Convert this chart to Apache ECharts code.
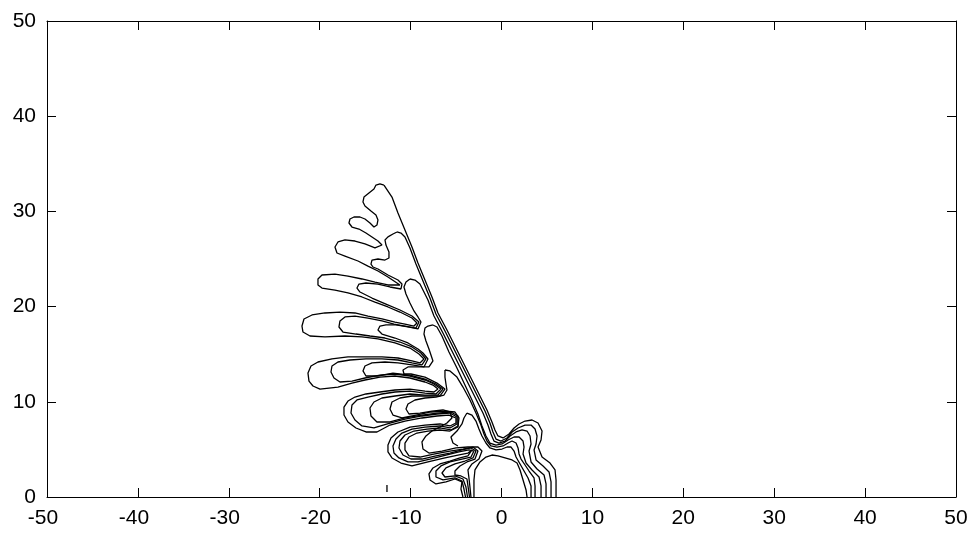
<!DOCTYPE html>
<html>
<head>
<meta charset="utf-8">
<title>contour</title>
<script src="https://cdn.jsdelivr.net/npm/echarts@6/dist/echarts.min.js"></script>
<style>
  html, body { margin: 0; padding: 0; background: #fff; }
  #chart { width: 972px; height: 535px; }
</style>
</head>
<body>
<div id="chart"></div>
<script>
// tick labels
const xTicks = [-50, -40, -30, -20, -10, 0, 10, 20, 30, 40, 50];
const yTicks = [0, 10, 20, 30, 40, 50];

// contour traces, [x, y]
// outermost level, left side (lobes) from the top down
const level1Left = [[-12.93,32.77],[-13.37,32.88],[-13.81,32.77],[-14.03,32.35],[-14.58,31.93],[-15.13,31.51],[-15.24,30.99],[-15.02,30.57],[-14.36,30.04],[-13.81,29.62],[-13.59,29.10],[-13.70,28.57],[-14.03,28.36],
  [-14.47,28.78],[-15.02,29.20],[-15.57,29.41],[-16.23,29.41],[-16.67,29.20],[-16.78,28.78],[-16.45,28.36],[-15.68,28.15],[-14.91,27.73],[-14.25,27.31],[-13.59,26.89],[-13.15,26.47],[-13.26,26.26],
  [-13.92,26.16],[-15.02,26.58],[-16.12,26.89],[-17.22,27.00],[-17.99,26.79],[-18.32,26.26],[-18.10,25.63],[-17.22,25.31],[-15.79,24.79],[-14.69,24.26],[-13.59,23.74],[-12.49,23.11],[-11.17,22.27],[-11.28,22.06],
  [-12.49,22.27],[-13.92,22.58],[-15.35,22.90],[-16.89,23.21],[-18.32,23.42],[-19.75,23.32],[-20.19,22.90],[-20.19,22.27],[-19.75,21.95],[-18.32,21.74],[-16.89,21.43],[-15.35,21.01],[-13.92,20.48],[-12.49,19.96],[-11.17,19.43],[-9.85,18.80],[-9.30,18.28],[-9.63,17.96],
  [-10.62,18.17],[-11.72,18.38],[-13.15,18.70],[-14.69,19.01],[-16.12,19.33],[-17.77,19.43],[-19.42,19.33],[-20.85,19.12],[-21.73,18.70],[-21.95,17.96],[-21.84,17.33],[-21.07,16.91],[-19.42,16.81],[-17.22,16.91],[-15.35,16.81],[-13.59,16.60],[-11.72,16.18],[-10.07,15.65],[-9.08,15.02],[-8.53,14.50],[-8.97,14.08],
  [-9.85,14.29],[-11.39,14.60],[-13.15,14.71],[-15.02,14.71],[-16.89,14.71],[-18.65,14.50],[-20.19,14.18],[-20.96,13.76],[-21.29,13.02],[-21.18,12.18],[-20.74,11.66],[-19.97,11.34],[-17.99,11.55],[-16.45,11.97],[-15.02,12.29],[-13.37,12.60],[-11.72,12.71],[-10.07,12.50],[-8.42,12.08],[-7.54,11.76],[-6.99,11.34],[-7.43,11.03],
  [-8.42,11.13],[-10.07,11.34],[-11.72,11.24],[-13.37,11.03],[-14.91,10.82],[-16.12,10.50],[-16.89,10.08],[-17.33,9.45],[-17.33,8.61],[-16.89,7.88],[-16.01,7.25],[-14.91,6.83],[-13.70,6.83],[-12.27,7.56],[-10.62,7.98],[-8.75,8.30],[-7.10,8.51],[-5.78,8.61],[-5.01,8.30],[-5.01,7.77],[-5.67,7.46],
  [-6.77,7.67],[-8.42,7.56],[-10.07,7.35],[-11.39,6.83],[-12.16,6.20],[-12.49,5.46],[-12.49,4.73],[-12.05,4.10],[-11.06,3.57],[-9.85,3.26],[-8.09,3.68],[-6.22,4.10],[-4.79,4.41],[-3.69,4.62],[-3.25,4.94],[-3.69,4.31],[-4.57,4.10],[-5.67,3.78],[-6.77,3.47],[-7.54,3.05],[-7.98,2.42],[-7.87,1.79],[-7.21,1.37],[-6.11,1.58],[-5.12,1.89],[-4.35,1.58],[-4.46,0.84],[-4.24,0]];
// outermost level, spine and right lobe from the top down
const level1Right = [[-12.93,32.77],[-12.05,31.51],[-11.39,29.83],[-10.62,28.05],[-9.85,26.26],[-9.19,24.58],[-8.42,22.79],[-7.65,21.01],[-6.99,19.33],[-6.00,17.54],[-5.12,15.86],[-4.24,14.18],[-3.25,12.29],[-2.37,10.61],[-1.60,9.14],[-1.05,7.88],[-0.72,7.04],[-0.39,6.41],[0.17,6.20],[0.83,6.62],[1.38,7.25],[1.93,7.67],[2.59,7.98],[3.36,8.09],[4.02,7.77],[4.46,6.93],[4.35,5.99],[4.02,5.25],[4.46,4.20],[5.34,3.57],[5.89,2.84],[6.00,1.79],[6.00,0]];

const level2Left = [[-11.50,27.84],[-11.94,27.63],[-12.49,27.32],[-12.82,27.00],[-12.71,26.47],[-12.38,25.74],[-12.38,25.11],[-12.82,24.89],[-13.59,25.00],[-14.25,24.89],[-14.36,24.47],[-14.14,24.16],[-13.59,23.95],[-12.49,23.32],[-11.39,22.79],[-10.95,22.37],[-11.06,21.85],[-12.27,22.06],[-13.59,22.37],[-14.91,22.48],[-15.68,22.37],[-15.90,21.95],[-15.57,21.53],[-14.25,20.90],[-12.71,20.27],[-11.17,19.64],[-9.85,19.01],[-9.08,18.38],[-9.41,17.75],[-10.62,17.96],[-11.83,18.17],[-13.15,18.49],[-14.69,18.80],[-16.12,19.01],[-17.22,18.91],[-17.77,18.49],[-17.88,17.86],[-17.44,17.33],[-16.01,17.12],[-14.47,16.91],[-12.82,16.70],[-11.17,16.28],[-9.85,15.76],[-8.86,15.13],[-8.31,14.50],[-8.75,13.87],[-9.85,14.08],[-11.39,14.39],[-13.15,14.50],[-14.91,14.50],[-16.67,14.39],[-17.99,14.18],[-18.65,13.76],[-18.76,13.13],[-18.43,12.50],[-17.77,12.08],[-16.45,12.18],[-15.02,12.50],[-13.37,12.81],[-11.72,12.92],[-10.07,12.71],[-8.42,12.29],[-7.43,11.87],[-6.66,11.34],[-7.21,10.82],[-8.42,10.92],[-10.07,11.13],[-11.72,11.03],[-13.15,10.82],[-14.69,10.50],[-15.90,10.19],[-16.45,9.66],[-16.56,8.82],[-16.12,8.09],[-15.35,7.46],[-14.03,7.25],[-12.27,7.77],[-10.62,8.19],[-8.75,8.51],[-7.10,8.72],[-5.67,8.82],[-4.90,8.40],[-4.90,7.67],[-5.67,7.25],[-6.77,7.46],[-8.42,7.35],[-9.85,7.14],[-10.95,6.72],[-11.61,6.09],[-11.94,5.36],[-11.83,4.62],[-11.28,4.10],[-10.29,3.68],[-9.19,3.68],[-7.87,3.99],[-6.11,4.41],[-4.68,4.73],[-3.58,4.94],[-3.03,4.83],[-3.36,4.20],[-4.35,3.99],[-5.67,3.68],[-6.66,3.26],[-7.21,2.73],[-7.21,2.10],[-6.44,1.79],[-5.12,2.00],[-4.35,1.68],[-4.13,0.84],[-3.96,0]];
const level2Right = [[-11.50,27.84],[-11.06,27.73],[-10.62,27.32],[-10.07,26.16],[-9.41,24.47],[-8.64,22.69],[-7.87,20.90],[-7.21,19.22],[-6.22,17.44],[-5.34,15.76],[-4.46,14.08],[-3.47,12.18],[-2.59,10.50],[-1.82,9.03],[-1.27,7.77],[-0.94,6.83],[-0.61,6.09],[-0.06,5.88],[0.61,6.20],[1.16,6.83],[1.82,7.25],[2.59,7.56],[3.25,7.56],[3.69,7.14],[3.91,6.41],[3.80,5.57],[3.58,4.94],[3.80,3.89],[4.57,3.26],[5.23,2.63],[5.45,1.58],[5.45,0]];

const level3Left = [[-10.07,22.90],[-10.51,22.58],[-10.73,22.06],[-10.51,21.32],[-10.07,20.38],[-9.63,19.54],[-9.19,18.91],[-8.86,18.38],[-9.19,17.65],[-10.29,17.86],[-11.61,18.07],[-12.71,18.07],[-13.37,17.96],[-13.59,17.54],[-13.15,17.12],[-11.72,16.70],[-10.29,16.18],[-9.19,15.55],[-8.64,15.13],[-8.09,14.50],[-8.53,13.66],[-9.85,13.87],[-11.39,14.08],[-12.82,14.18],[-14.25,14.08],[-15.02,13.76],[-15.24,13.24],[-14.91,12.71],[-13.59,12.71],[-11.94,13.02],[-10.07,12.81],[-8.42,12.39],[-7.21,11.87],[-6.44,11.34],[-6.99,10.71],[-8.42,10.71],[-10.07,10.82],[-11.72,10.61],[-13.15,10.40],[-14.03,9.98],[-14.47,9.35],[-14.36,8.51],[-13.70,7.88],[-12.27,7.88],[-10.62,8.30],[-8.75,8.61],[-7.10,8.82],[-5.56,8.93],[-4.79,8.51],[-4.79,7.46],[-5.56,7.04],[-6.77,7.25],[-8.20,7.14],[-9.63,6.93],[-10.62,6.51],[-11.17,5.88],[-11.28,5.15],[-10.84,4.41],[-9.96,3.99],[-8.75,3.99],[-7.21,4.31],[-5.67,4.62],[-4.35,4.94],[-3.36,5.15],[-2.81,4.83],[-3.14,4.10],[-4.02,3.78],[-5.12,3.47],[-6.11,3.05],[-6.55,2.52],[-6.22,2.10],[-5.12,2.21],[-4.24,1.89],[-3.91,1.05],[-3.74,0]];
const level3Right = [[-10.07,22.90],[-9.52,22.79],[-8.97,22.37],[-8.09,20.69],[-7.43,19.01],[-6.44,17.23],[-5.56,15.55],[-4.68,13.87],[-3.69,11.97],[-2.81,10.29],[-2.04,8.82],[-1.49,7.56],[-1.16,6.62],[-0.83,5.88],[-0.28,5.67],[0.39,5.88],[0.94,6.41],[1.60,6.83],[2.26,7.04],[2.81,6.93],[3.14,6.41],[3.25,5.57],[3.03,4.83],[3.25,3.68],[3.91,2.94],[4.68,2.31],[4.90,1.37],[4.90,0]];

const level4Left = [[-7.54,18.07],[-8.09,17.96],[-8.42,17.75],[-8.53,17.12],[-8.31,16.39],[-7.98,15.55],[-7.76,14.92],[-7.54,14.29],[-7.98,13.66],[-9.19,13.66],[-10.29,13.66],[-10.84,13.34],[-10.73,12.92],[-9.96,12.92],[-8.42,12.60],[-7.10,11.97],[-6.22,11.34],[-6.77,10.61],[-8.09,10.61],[-9.85,10.61],[-11.17,10.40],[-12.05,9.98],[-12.27,9.24],[-11.94,8.61],[-10.95,8.30],[-9.41,8.61],[-7.76,8.93],[-6.11,9.03],[-5.12,8.93],[-4.68,8.30],[-4.79,7.35],[-5.67,6.93],[-6.77,7.04],[-8.09,6.93],[-9.30,6.72],[-10.18,6.30],[-10.62,5.67],[-10.62,4.94],[-10.18,4.31],[-8.97,4.20],[-7.32,4.52],[-5.67,4.83],[-4.24,5.04],[-3.14,5.25],[-2.59,4.83],[-2.92,3.99],[-3.80,3.68],[-4.57,3.26],[-5.12,2.73],[-5.12,2.31],[-4.46,2.21],[-3.80,1.89],[-3.69,1.16],[-3.52,0]];
const level4Right = [[-7.54,18.07],[-7.10,17.86],[-6.55,16.91],[-5.78,15.23],[-4.90,13.55],[-4.02,11.76],[-3.25,10.19],[-2.59,8.72],[-2.15,7.46],[-1.71,6.41],[-1.27,5.67],[-0.61,5.46],[0.06,5.57],[0.72,5.99],[1.38,6.30],[1.93,6.30],[2.37,5.88],[2.48,5.25],[2.37,4.52],[2.70,3.57],[3.36,2.84],[4.13,2.10],[4.35,1.16],[4.35,0]];

const level5Left = [[-6.22,13.34],[-6.22,12.60],[-6.11,11.87],[-6.00,11.24],[-6.33,10.71],[-7.21,10.50],[-8.42,10.40],[-9.52,10.19],[-10.29,9.77],[-10.51,9.24],[-10.18,8.72],[-8.97,8.82],[-7.65,9.03],[-6.44,9.14],[-5.67,8.93],[-5.45,8.30],[-6.00,7.77],[-6.77,7.35],[-7.65,6.93],[-8.31,6.41],[-8.75,5.78],[-8.64,5.04],[-7.98,4.62],[-6.55,4.83],[-5.01,5.15],[-3.69,5.25],[-2.59,5.25],[-2.15,4.83],[-2.48,3.99],[-3.25,3.47],[-3.69,2.84],[-3.58,2.00],[-3.47,1.05],[-3.36,0]];
const level5Right = [[-6.22,13.34],[-5.67,13.24],[-4.90,12.60],[-4.24,11.55],[-3.47,10.19],[-2.81,8.82],[-2.26,7.56],[-1.93,6.62],[-1.60,5.88],[-1.16,5.36],[-0.50,5.25],[0.17,5.36],[0.72,5.67],[1.16,5.88],[1.60,5.67],[1.82,5.15],[1.93,4.52],[2.15,3.99],[2.59,3.36],[3.03,2.73],[3.58,2.00],[3.69,1.16],[3.69,0]];

const level6Left = [[-3.80,8.82],[-4.13,8.30],[-4.35,7.67],[-4.90,6.93],[-5.56,6.30],[-5.34,5.67],[-4.79,5.36]];
const level6Right = [[-3.80,8.82],[-3.25,8.61],[-2.81,7.98],[-2.48,7.14],[-2.15,6.41],[-1.71,5.67],[-1.27,5.15],[-0.61,4.94],[0.06,5.04],[0.61,5.25],[1.05,5.25],[1.38,4.83],[1.60,4.20],[2.04,3.47],[2.48,2.73],[2.92,2.00],[3.25,1.16],[3.25,0]];

// closed dome sitting on the x axis, and a tiny stray piece
const hill = [[-3.03,0],[-3.03,0.74],[-3.03,1.79],[-2.92,2.84],[-2.37,3.68],[-1.71,4.20],[-1.05,4.41],[-0.39,4.31],[0.39,4.10],[1.16,3.89],[1.71,3.57],[2.04,2.84],[2.37,1.79],[2.70,0.74],[2.81,0]];
const speck = [[-12.60,1.26],[-12.60,0.53]];

const traces = [level1Left, level1Right, level2Left, level2Right, level3Left, level3Right,
  level4Left, level4Right, level5Left, level5Right, level6Left, level6Right, hill, speck];

const font = 'Liberation Sans, Arial, sans-serif';
const axisCommon = {
  type: 'value',
  axisLine: { show: true, onZero: false, lineStyle: { color: '#000', width: 1 } },
  axisTick: { show: true, inside: true, length: 9, lineStyle: { color: '#000', width: 1 } },
  splitLine: { show: false }
};
const xRange = { min: xTicks[0], max: xTicks[xTicks.length - 1], interval: xTicks[1] - xTicks[0] };
const yRange = { min: yTicks[0], max: yTicks[yTicks.length - 1], interval: yTicks[1] - yTicks[0] };

const chart = echarts.init(document.getElementById('chart'), null, { renderer: 'canvas' });
chart.setOption({
  animation: false,
  backgroundColor: '#fff',
  grid: { left: 47, right: 16, top: 21, bottom: 38 },
  xAxis: [
    Object.assign({}, axisCommon, xRange, {
      position: 'bottom',
      axisLabel: {
        margin: 11,
        // matlab centres the digits, the minus hangs out to the left
        formatter: v => v < 0 ? '{t|' + v + '}{p| }' : '{t|' + v + '}',
        rich: {
          t: { color: '#000', fontSize: 21, fontFamily: font, lineHeight: 21 },
          p: { width: 8, fontSize: 21, lineHeight: 21 }
        }
      }
    }),
    Object.assign({}, axisCommon, xRange, { position: 'top', axisLabel: { show: false } })
  ],
  yAxis: [
    Object.assign({}, axisCommon, yRange, {
      position: 'left',
      axisLabel: { margin: 11, color: '#000', fontSize: 21, fontFamily: font }
    }),
    Object.assign({}, axisCommon, yRange, { position: 'right', axisLabel: { show: false } })
  ],
  series: traces.map(d => ({
    type: 'line',
    data: d,
    symbol: 'none',
    silent: true,
    clip: true,
    lineStyle: { color: '#000', width: 1.3 }
  }))
});
</script>
</body>
</html>
